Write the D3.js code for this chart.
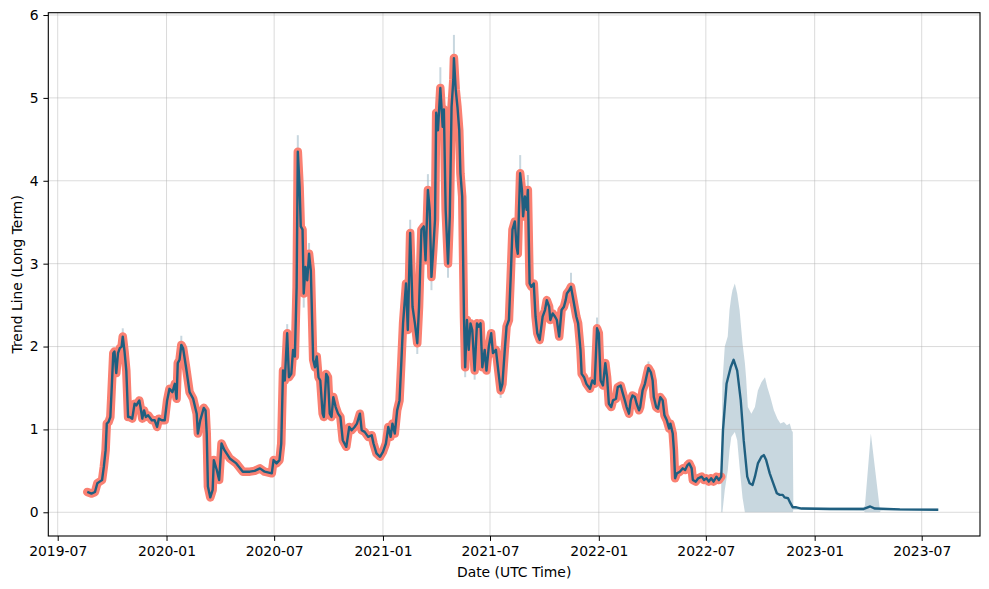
<!DOCTYPE html>
<html><head><meta charset="utf-8">
<script src="https://cdn.jsdelivr.net/npm/d3@7"></script>
<style>body{margin:0;background:#fff} text{font-family:"DejaVu Sans",sans-serif}</style>
</head><body><svg id="c" width="989" height="589"></svg>
<script>
// ---- Data ----
const histDates = ["2019-08-20","2019-08-27","2019-09-02","2019-09-06","2019-09-10","2019-09-14","2019-09-17","2019-09-20","2019-09-22","2019-09-25","2019-09-28","2019-09-30","2019-10-03","2019-10-05","2019-10-08","2019-10-11","2019-10-14","2019-10-17","2019-10-19","2019-10-22","2019-10-25","2019-10-28","2019-10-31","2019-11-04","2019-11-08","2019-11-11","2019-11-16","2019-11-18","2019-11-21","2019-11-24","2019-11-27","2019-12-01","2019-12-07","2019-12-12","2019-12-16","2019-12-19","2019-12-24","2019-12-29",
"2020-01-02","2020-01-06","2020-01-11","2020-01-15","2020-01-18","2020-01-20","2020-01-23","2020-01-26","2020-01-29","2020-02-03","2020-02-09","2020-02-15","2020-02-21","2020-02-23","2020-02-27","2020-03-04","2020-03-07","2020-03-09","2020-03-11","2020-03-15","2020-03-19","2020-03-21","2020-03-26","2020-03-30","2020-04-03","2020-04-08","2020-04-17","2020-04-28","2020-05-09","2020-05-21","2020-05-29","2020-06-07","2020-06-15","2020-06-27","2020-06-30","2020-07-05","2020-07-10","2020-07-13","2020-07-16","2020-07-19","2020-07-23","2020-07-26","2020-07-30","2020-08-02","2020-08-05","2020-08-08","2020-08-10","2020-08-13","2020-08-15","2020-08-18","2020-08-20","2020-08-23","2020-08-26","2020-08-29","2020-09-01","2020-09-05","2020-09-08","2020-09-11","2020-09-14","2020-09-17","2020-09-21","2020-09-23","2020-09-27","2020-09-30","2020-10-03","2020-10-06","2020-10-09","2020-10-13","2020-10-17","2020-10-21","2020-10-25","2020-10-31","2020-11-05","2020-11-09","2020-11-14","2020-11-18","2020-11-23","2020-11-26","2020-12-01","2020-12-07","2020-12-13","2020-12-16","2020-12-21","2020-12-27",
"2021-01-01","2021-01-06","2021-01-10","2021-01-14","2021-01-17","2021-01-21","2021-01-25","2021-01-29","2021-02-01","2021-02-04","2021-02-09","2021-02-12","2021-02-16","2021-02-20","2021-02-24","2021-02-28","2021-03-03","2021-03-07","2021-03-11","2021-03-14","2021-03-18","2021-03-21","2021-03-24","2021-03-27","2021-03-30","2021-04-01","2021-04-04","2021-04-08","2021-04-12","2021-04-14","2021-04-17","2021-04-21","2021-04-24","2021-04-27","2021-04-30","2021-05-01","2021-05-04","2021-05-07","2021-05-10","2021-05-12","2021-05-15","2021-05-18","2021-05-20","2021-05-23","2021-05-26","2021-05-29","2021-06-01","2021-06-05","2021-06-09","2021-06-12","2021-06-15","2021-06-18","2021-06-22","2021-06-25","2021-06-29","2021-07-03","2021-07-06","2021-07-11","2021-07-15","2021-07-19","2021-07-22","2021-07-26","2021-07-29","2021-08-02","2021-08-05","2021-08-08","2021-08-12","2021-08-15","2021-08-17","2021-08-19","2021-08-21","2021-08-24","2021-08-26","2021-08-29","2021-09-01","2021-09-03","2021-09-06","2021-09-09","2021-09-13","2021-09-16","2021-09-19","2021-09-23","2021-09-28","2021-10-02","2021-10-05","2021-10-09","2021-10-11","2021-10-15","2021-10-19","2021-10-22","2021-10-26","2021-10-30","2021-11-03","2021-11-06","2021-11-08","2021-11-12","2021-11-15","2021-11-18","2021-11-21","2021-11-24","2021-11-27","2021-12-01","2021-12-03","2021-12-07","2021-12-11","2021-12-17","2021-12-21","2021-12-25","2021-12-29",
"2022-01-01","2022-01-04","2022-01-08","2022-01-12","2022-01-15","2022-01-18","2022-01-22","2022-01-25","2022-01-30","2022-02-02","2022-02-07","2022-02-10","2022-02-14","2022-02-17","2022-02-21","2022-02-24","2022-02-27","2022-03-03","2022-03-06","2022-03-10","2022-03-12","2022-03-16","2022-03-20","2022-03-23","2022-03-26","2022-03-30","2022-04-02","2022-04-04","2022-04-08","2022-04-11","2022-04-15","2022-04-19","2022-04-22","2022-04-26","2022-04-30","2022-05-02","2022-05-06","2022-05-08","2022-05-10","2022-05-13","2022-05-18","2022-05-23","2022-05-27","2022-05-31","2022-06-03","2022-06-07","2022-06-09","2022-06-14","2022-06-18","2022-06-24","2022-06-28","2022-07-02","2022-07-06","2022-07-10","2022-07-14","2022-07-19","2022-07-23","2022-07-27"];
const histValues = [0.245,0.226,0.245,0.35,0.37,0.39,0.55,0.75,1.07,1.09,1.15,1.45,1.92,1.94,1.68,1.92,1.98,2.00,2.12,1.94,1.71,1.15,1.15,1.13,1.31,1.29,1.35,1.27,1.13,1.23,1.15,1.17,1.11,1.11,1.03,1.13,1.11,1.11,
1.35,1.49,1.45,1.55,1.37,1.80,1.84,2.02,1.98,1.75,1.45,1.37,1.19,0.95,1.11,1.26,1.23,0.95,0.31,0.18,0.27,0.63,0.51,0.39,0.83,0.75,0.65,0.59,0.49,0.49,0.50,0.53,0.49,0.47,0.63,0.59,0.63,0.83,1.71,1.59,2.16,1.63,1.67,1.96,1.88,2.72,4.35,3.93,3.45,3.41,2.64,2.96,2.80,3.12,2.92,1.84,1.75,1.88,1.63,1.59,1.19,1.15,1.67,1.63,1.19,1.15,1.39,1.27,1.19,1.15,0.87,0.79,1.03,0.99,1.03,1.07,1.19,0.99,0.97,0.91,0.93,0.83,0.71,0.67,
0.73,0.83,1.03,0.91,1.07,0.95,1.23,1.35,1.80,2.28,2.76,2.20,3.37,2.48,2.28,2.04,2.48,3.41,3.45,3.04,3.89,3.65,2.84,3.16,3.53,4.82,4.61,5.12,4.65,4.86,3.65,3.00,3.57,4.89,5.22,5.48,5.10,4.89,4.61,4.09,3.81,2.36,1.75,2.32,1.96,2.28,2.20,1.71,2.28,2.24,2.28,1.75,1.96,1.71,2.00,2.16,1.92,1.96,1.71,1.47,1.55,1.96,2.24,2.32,2.84,3.41,3.51,3.20,3.12,3.65,4.09,3.89,3.57,3.81,3.65,3.89,2.76,2.72,2.76,2.36,2.16,2.08,2.36,2.44,2.56,2.48,2.32,2.40,2.36,2.32,2.12,2.44,2.48,2.56,2.64,2.68,2.72,2.60,2.48,2.36,2.28,1.96,1.67,1.63,1.55,1.49,1.59,1.55,2.22,
2.16,1.59,1.53,1.80,1.63,1.31,1.27,1.35,1.37,1.51,1.53,1.45,1.35,1.27,1.19,1.35,1.41,1.39,1.31,1.23,1.27,1.47,1.55,1.65,1.74,1.69,1.59,1.39,1.27,1.25,1.39,1.35,1.17,1.11,1.01,1.07,0.95,0.75,0.41,0.47,0.49,0.53,0.51,0.57,0.59,0.53,0.39,0.37,0.41,0.43,0.39,0.41,0.37,0.41,0.37,0.43,0.39,0.43];

const fcDates = ["2022-07-27","2022-07-30","2022-08-05","2022-08-12","2022-08-17","2022-08-23","2022-08-29","2022-09-03","2022-09-09","2022-09-13","2022-09-18","2022-09-22","2022-09-27","2022-10-03","2022-10-07","2022-10-11","2022-10-17","2022-10-23","2022-10-29","2022-11-03","2022-11-08","2022-11-11","2022-11-17","2022-11-21","2022-11-25","2022-12-01","2022-12-10","2023-01-27","2023-03-25","2023-04-05","2023-04-13","2023-05-25","2023-07-29"];
const fcValues = [0.43,0.99,1.55,1.75,1.84,1.71,1.35,0.87,0.43,0.35,0.33,0.43,0.59,0.67,0.69,0.63,0.47,0.35,0.23,0.21,0.21,0.18,0.17,0.11,0.06,0.06,0.045,0.04,0.04,0.07,0.045,0.035,0.03];

const bandDates = ["2022-07-27","2022-07-29","2022-08-02","2022-08-07","2022-08-10","2022-08-13","2022-08-15","2022-08-19","2022-08-23","2022-08-27","2022-09-01","2022-09-05","2022-09-07","2022-09-10","2022-09-16","2022-09-22","2022-09-27","2022-10-03","2022-10-09","2022-10-13","2022-10-18","2022-10-24","2022-10-30","2022-11-04","2022-11-10","2022-11-15","2022-11-20","2022-11-23","2022-11-25","2022-11-26","2022-12-10","2023-03-25","2023-03-27","2023-04-06","2023-04-21","2023-04-23","2023-07-29"];
const bandLower = [0,0,0.27,0.50,0.75,0.91,0.93,0.97,0.87,0.55,0.18,0,0,0,0,0,0,0,0,0,0,0,0,0,0,0,0,0,0,0.03,0.03,0.02,0,0,0,0.02,0.02];
const bandUpper = [0.45,1.56,2.00,2.12,2.44,2.60,2.68,2.76,2.64,2.44,2.04,1.80,1.63,1.27,1.19,1.27,1.47,1.57,1.63,1.51,1.39,1.23,1.13,1.07,1.09,1.05,1.07,0.99,0.97,0.07,0.06,0.06,0.08,0.95,0.05,0.05,0.045];

const spikeDates = ["2019-10-19","2020-01-26","2020-07-23","2020-08-10","2020-08-20","2020-08-29","2021-02-16","2021-02-28","2021-03-18","2021-03-24","2021-04-08","2021-04-21","2021-05-01","2021-05-20","2021-06-05","2021-07-19","2021-08-21","2021-09-03","2021-11-15","2021-12-29","2022-03-26"];
const spikeLow  = [2.05,1.95,2.05,4.20,2.47,3.00,3.20,1.91,3.70,2.68,5.00,2.83,5.30,1.63,1.60,1.38,3.95,3.75,2.60,2.10,1.60];
const spikeHigh = [2.22,2.13,2.27,4.55,2.70,3.25,3.53,2.10,4.08,2.90,5.37,3.10,5.76,1.85,1.80,1.55,4.31,4.07,2.89,2.35,1.82];

const yTicks = [0,1,2,3,4,5,6];
const xTickLabels = ["2019-07","2020-01","2020-07","2021-01","2021-07","2022-01","2022-07","2023-01","2023-07"];

// ---- Chart ----
const parse = d3.utcParse("%Y-%m-%d");
const L = 48.3, R = 980, T = 12.7, B = 536;
const svg = d3.select("#c");
const x = d3.scaleUtc().domain([new Date(Date.UTC(2019,5,15,2)), new Date(Date.UTC(2023,9,7,14))]).range([L, R]);
const y = d3.scaleLinear().domain([-0.286, 6.028]).range([B, T]);
const xTicks = xTickLabels.map(d3.utcParse("%Y-%m"));

const hist = histDates.map((d,i)=>({d:parse(d), v:histValues[i]}));
const fc = fcDates.map((d,i)=>({d:parse(d), v:fcValues[i]}));
const band = bandDates.map((d,i)=>({d:parse(d), lo:bandLower[i], hi:bandUpper[i]}));
const spikes = spikeDates.map((d,i)=>({d:parse(d), lo:spikeLow[i], hi:spikeHigh[i]}));

const bandColor = "rgb(23,87,123)";
svg.append("path").datum(band)
  .attr("d", d3.area().x(d=>x(d.d)).y0(d=>y(d.lo)).y1(d=>y(d.hi)))
  .attr("fill", bandColor).attr("fill-opacity", 0.24);
svg.append("g").selectAll("line").data(spikes).join("line")
  .attr("x1", d=>x(d.d)).attr("x2", d=>x(d.d)).attr("y1", d=>y(d.lo)).attr("y2", d=>y(d.hi))
  .attr("stroke", bandColor).attr("stroke-opacity", 0.24).attr("stroke-width", 2);

const grid = svg.append("g").attr("stroke", "#b0b0b0").attr("stroke-opacity", 0.45).attr("stroke-width", 1);
grid.selectAll(".gx").data(xTicks).join("line")
  .attr("x1", d=>x(d)).attr("x2", d=>x(d)).attr("y1", T).attr("y2", B);
grid.selectAll(".gy").data(yTicks).join("line")
  .attr("x1", L).attr("x2", R).attr("y1", d=>y(d)).attr("y2", d=>y(d));

const line = d3.line().x(d=>x(d.d)).y(d=>y(d.v));
svg.append("path").datum(hist).attr("d", line)
  .attr("fill","none").attr("stroke","#fa8072").attr("stroke-width",8.5)
  .attr("stroke-linejoin","round").attr("stroke-linecap","round");
svg.append("path").datum(hist.concat(fc.slice(1))).attr("d", line)
  .attr("fill","none").attr("stroke","#1f5f80").attr("stroke-width",2.4)
  .attr("stroke-linejoin","round");

const xa = svg.append("g").attr("transform",`translate(0,${B})`)
  .call(d3.axisBottom(x).tickValues(xTicks).tickFormat(d3.utcFormat("%Y-%m")).tickSize(4.9).tickPadding(4.9));
const ya = svg.append("g").attr("transform",`translate(${L},0)`)
  .call(d3.axisLeft(y).tickValues(yTicks).tickFormat(d3.format("d")).tickSize(4.9).tickPadding(4.9));
[xa, ya].forEach(g=>{
  g.select(".domain").remove();
  g.selectAll("line").attr("stroke","#000").attr("stroke-width",1);
  g.selectAll("text").attr("font-family","DejaVu Sans").attr("font-size","13.9px").attr("fill","#000");
});
svg.append("rect").attr("x",L).attr("y",T).attr("width",R-L).attr("height",B-T)
  .attr("fill","none").attr("stroke","#000").attr("stroke-width",1.1);

svg.append("text").attr("x",(L+R)/2).attr("y",577).attr("text-anchor","middle")
  .attr("font-size","13.9px").text("Date (UTC Time)");
svg.append("text").attr("transform",`translate(21.5,${(T+B)/2}) rotate(-90)`).attr("text-anchor","middle")
  .attr("font-size","13.9px").text("Trend Line (Long Term)");
</script></body></html>
